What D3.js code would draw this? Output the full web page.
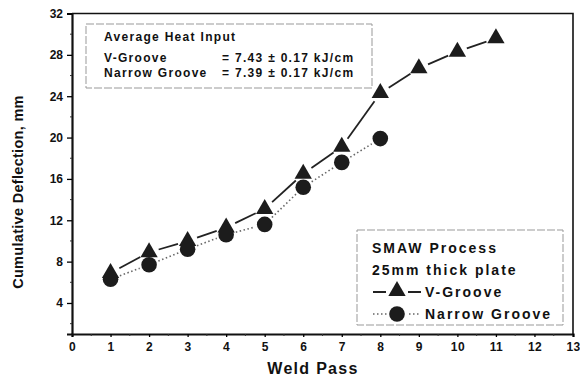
<!DOCTYPE html>
<html>
<head>
<meta charset="utf-8">
<script src="https://cdn.jsdelivr.net/npm/d3@7"></script>
<style>
  body { margin: 0; background: #fff; }
  svg text { font-family: Arial, "Liberation Sans", Helvetica, sans-serif; font-weight: bold; fill: #111; }
</style>
</head>
<body>
<svg id="chart" width="580" height="379"></svg>
<script>
// weld pass numbers and cumulative deflection (mm)
const vPasses = [1, 2, 3, 4, 5, 6, 7, 8, 9, 10, 11]
const vGroove = [6.9, 8.9, 10.0, 11.3, 13.1, 16.5, 19.1, 24.3, 26.7, 28.3, 29.6]
const nPasses = [1, 2, 3, 4, 5, 6, 7, 8]
const narrowGroove = [6.3, 7.7, 9.2, 10.6, 11.6, 15.2, 17.6, 19.9]

const xTicks = d3.range(0, 14)
const yTicks = [4, 8, 12, 16, 20, 24, 28, 32]
const yMinor = [2, 6, 10, 14, 18, 22, 26, 30]

const heatTitle = 'Average Heat Input'
const heatRows = [
  ['V-Groove', '= 7.43 ± 0.17 kJ/cm'],
  ['Narrow Groove', '= 7.39 ± 0.17 kJ/cm']
]
const legendTitle = ['SMAW Process', '25mm thick plate']

const svg = d3.select('#chart')
const x = d3.scaleLinear().domain([0, 13]).range([72, 573])
const y = d3.scaleLinear().domain([1, 32]).range([334, 13.5])

// frame (top + right)
svg.append('path')
  .attr('d', `M${x(0)},${y(32)}H${x(13)}V${y(1)}`)
  .attr('fill', 'none').attr('stroke', '#111').attr('stroke-width', 1.6)

// x axis
const xAxis = svg.append('g').attr('transform', `translate(0,${y(1)})`)
  .call(d3.axisBottom(x).tickValues(xTicks).tickSize(3).tickPadding(5).tickFormat(d3.format('d')))
xAxis.select('.domain').attr('stroke-width', 2.2).attr('stroke', '#111')
xAxis.selectAll('.tick line').attr('stroke-width', 1.3)
xAxis.selectAll('text').attr('font-size', 12).attr('font-family', null).attr('letter-spacing', 0.4)
xAxis.selectAll('.minor').data(d3.range(0.5, 13, 1)).enter().append('line')
  .attr('x1', d => x(d)).attr('x2', d => x(d)).attr('y1', 0).attr('y2', 2)
  .attr('stroke', '#333').attr('stroke-width', 1)

// y axis
const yAxis = svg.append('g').attr('transform', `translate(${x(0)},0)`)
  .call(d3.axisLeft(y).tickValues(yTicks).tickSize(5).tickPadding(4).tickFormat(d3.format('d')))
yAxis.select('.domain').attr('stroke-width', 2.2).attr('stroke', '#111')
yAxis.selectAll('.tick line').attr('stroke-width', 1.3)
yAxis.selectAll('text').attr('font-size', 12).attr('font-family', null)
yAxis.selectAll('.minor').data(yMinor).enter().append('line')
  .attr('x1', -2).attr('x2', 0).attr('y1', d => y(d)).attr('y2', d => y(d))
  .attr('stroke', '#333').attr('stroke-width', 1)

// axis titles
svg.append('text').attr('x', 313).attr('y', 374).attr('text-anchor', 'middle')
  .attr('font-size', 16).attr('letter-spacing', 1.3).text('Weld Pass')
svg.append('text').attr('transform', 'translate(23,192) rotate(-90)').attr('text-anchor', 'middle')
  .attr('font-size', 14.5).attr('letter-spacing', 0.3).text('Cumulative Deflection, mm')

// line segments with a gap at each marker
const gap = 10
const segments = (xs, ys) => d3.pairs(xs.map((p, i) => [x(p), y(ys[i])])).map(([a, b]) => {
  const dx = b[0] - a[0]
  const dy = b[1] - a[1]
  const len = Math.hypot(dx, dy)
  const ux = dx / len
  const uy = dy / len
  return [a[0] + ux * gap, a[1] + uy * gap, b[0] - ux * gap, b[1] - uy * gap]
})

svg.append('g').selectAll('line').data(segments(nPasses, narrowGroove)).enter().append('line')
  .attr('x1', d => d[0]).attr('y1', d => d[1]).attr('x2', d => d[2]).attr('y2', d => d[3])
  .attr('stroke', '#666').attr('stroke-width', 1.6).attr('stroke-dasharray', '1.5,2.5')

svg.append('g').selectAll('line').data(segments(vPasses, vGroove)).enter().append('line')
  .attr('x1', d => d[0]).attr('y1', d => d[1]).attr('x2', d => d[2]).attr('y2', d => d[3])
  .attr('stroke', '#222').attr('stroke-width', 1.8)

const tri = d3.symbol(d3.symbolTriangle, 130)

svg.append('g').selectAll('circle').data(nPasses).enter().append('circle')
  .attr('cx', d => x(d)).attr('cy', (d, i) => y(narrowGroove[i])).attr('r', 7.8)
  .attr('fill', '#1c1c1c')

svg.append('g').selectAll('path').data(vPasses).enter().append('path')
  .attr('d', tri)
  .attr('transform', (d, i) => `translate(${x(d)},${y(vGroove[i])})`)
  .attr('fill', '#1c1c1c')

// heat input box
const hb = svg.append('g')
hb.append('rect').attr('x', 86).attr('y', 24).attr('width', 286).attr('height', 64)
  .attr('fill', '#fff').attr('stroke', '#999').attr('stroke-width', 1).attr('stroke-dasharray', '8,2')
hb.append('text').attr('x', 104).attr('y', 41).attr('font-size', 12).attr('letter-spacing', 1.3).text(heatTitle)
hb.selectAll('.row').data(heatRows).enter().append('g').each(function (d, i) {
  const g = d3.select(this)
  g.append('text').attr('x', 104).attr('y', 62 + i * 15).attr('font-size', 12).attr('letter-spacing', 1.3).text(d[0])
  g.append('text').attr('x', 222).attr('y', 62 + i * 15).attr('font-size', 12).attr('letter-spacing', 1.3).text(d[1])
})

// series legend
const lg = svg.append('g')
lg.append('rect').attr('x', 357).attr('y', 230).attr('width', 206).attr('height', 95)
  .attr('fill', '#fff').attr('stroke', '#999').attr('stroke-width', 1).attr('stroke-dasharray', '8,2')
lg.selectAll('.title').data(legendTitle).enter().append('text')
  .attr('x', 372).attr('y', (d, i) => 253 + i * 22).attr('font-size', 14).attr('letter-spacing', 2)
  .text(d => d)

const lx = 397
lg.append('line').attr('x1', 373).attr('x2', 421).attr('y1', 292).attr('y2', 292)
  .attr('stroke', '#222').attr('stroke-width', 1.8)
lg.append('rect').attr('x', lx - 11).attr('y', 283).attr('width', 22).attr('height', 14).attr('fill', '#fff')
lg.append('path').attr('d', tri).attr('transform', `translate(${lx},${291})`).attr('fill', '#1c1c1c')
lg.append('text').attr('x', 425).attr('y', 297).attr('font-size', 14).attr('letter-spacing', 2).text('V-Groove')

lg.append('line').attr('x1', 373).attr('x2', 421).attr('y1', 314).attr('y2', 314)
  .attr('stroke', '#666').attr('stroke-width', 1.6).attr('stroke-dasharray', '1.5,2.5')
lg.append('rect').attr('x', lx - 10).attr('y', 305).attr('width', 20).attr('height', 18).attr('fill', '#fff')
lg.append('circle').attr('cx', lx).attr('cy', 314).attr('r', 7.8).attr('fill', '#1c1c1c')
lg.append('text').attr('x', 425).attr('y', 319).attr('font-size', 14).attr('letter-spacing', 2).text('Narrow Groove')
</script>
</body>
</html>
